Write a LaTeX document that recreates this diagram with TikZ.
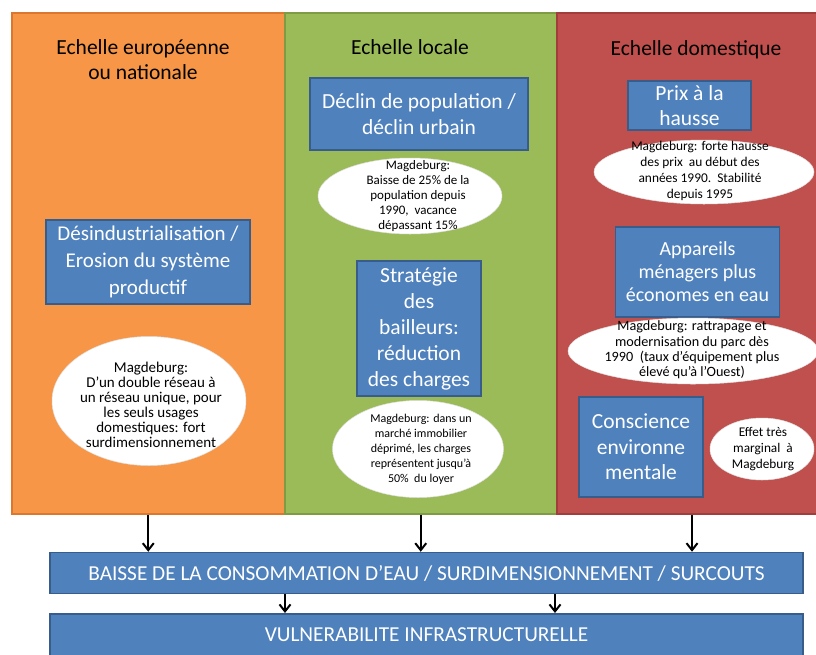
\documentclass[tikz,border=0pt]{standalone}
\usepackage{fontspec}
\setmainfont{Carlito}
\usetikzlibrary{shapes.geometric,arrows.meta}
\definecolor{orF}{HTML}{F79646}
\definecolor{orD}{HTML}{D9782E}
\definecolor{grF}{HTML}{9BBB59}
\definecolor{grD}{HTML}{7F9C45}
\definecolor{rdF}{HTML}{C0504D}
\definecolor{rdD}{HTML}{A03E3B}
\definecolor{blF}{HTML}{4F81BD}
\definecolor{blD}{HTML}{385D8A}
\tikzset{
  panel/.style={rectangle, anchor=north west, line width=1.5pt, inner sep=0pt},
  heading/.style={font=\fontsize{21.5}{25}\selectfont, align=center, text=black, inner sep=0pt},
  bluebox/.style={rectangle, draw=blD, fill=blF, line width=1.5pt, text=white, align=center,
    font=\fontsize{21.5}{25.5}\selectfont, inner sep=0pt},
  oval/.style={ellipse, fill=white, draw=black!12, line width=0.5pt, inner sep=0pt},
  ovaltext/.style={align=center, inner sep=0pt, text=black},
  bar/.style={rectangle, draw=blD, fill=blF, line width=1.5pt, text=white,
    font=\fontsize{21.3}{24}\selectfont, inner sep=0pt, minimum width=753pt},
  arr/.style={-{Straight Barb[length=7pt,width=11pt,line width=2pt]}, line width=2.2pt, black}
}
\begin{document}
\begin{tikzpicture}[x=1pt,y=-1pt]
\useasboundingbox (0,0) rectangle (816,654);
\fill[white] (0,0) rectangle (816,654);
% panels
\node[panel, fill=orF, draw=orD, minimum width=273pt, minimum height=501pt] (po) at (11,12) {};
\node[panel, fill=grF, draw=grD, minimum width=272pt, minimum height=501pt] (pg) at (284,12) {};
\node[panel, fill=rdF, draw=rdD, minimum width=262pt, minimum height=501pt] (pr) at (556,12) {};
% headings
\node[heading] (ho) at (143,60) {Echelle européenne\\ou nationale};
\node[heading] (hg) at (410,47) {Echelle locale};
\node[heading] (hr) at (696,50) {Echelle domestique};
% orange column
\node[bluebox, font=\fontsize{21}{27}\selectfont, minimum width=204pt, minimum height=84pt] (b1) at (148,262) {Désindustrialisation /\\Erosion du système\\productif};
\node[oval, minimum width=194pt, minimum height=129pt] (e1) at (149,401) {};
\node[ovaltext, font=\fontsize{15}{15}\selectfont] (t1) at (151,405) {Magdeburg:\\D’un double réseau à\\un réseau unique, pour\\les seuls usages\\domestiques: fort\\surdimensionnement};
% green column
\node[bluebox, minimum width=218pt, minimum height=72pt] (b2) at (419,114) {Déclin de population /\\déclin urbain};
\node[oval, minimum width=184pt, minimum height=76pt] (e2) at (410,196) {};
\node[ovaltext, font=\fontsize{13}{15}\selectfont] (t2) at (418,196) {Magdeburg:\\Baisse de 25\% de la\\population depuis\\1990,\ \ vacance\\dépassant 15\%};
\node[bluebox, font=\fontsize{21.5}{26}\selectfont, minimum width=124pt, minimum height=135pt] (b3) at (419,328.5) {Stratégie\\des\\bailleurs:\\réduction\\des charges};
\node[oval, minimum width=171pt, minimum height=97pt] (e3) at (418,449) {};
\node[ovaltext, font=\fontsize{12}{15}\selectfont] (t3) at (421,449) {Magdeburg: dans un\\marché immobilier\\déprimé, les charges\\représentent jusqu’à\\50\%\ \ du loyer};
% red column
\node[bluebox, minimum width=123pt, minimum height=49pt] (b4) at (689.5,105.5) {Prix à la\\hausse};
\node[oval, minimum width=220pt, minimum height=64pt] (e4) at (704,172) {};
\node[ovaltext, font=\fontsize{13.4}{15.8}\selectfont] (t4) at (700,171) {Magdeburg: forte hausse\\des prix\ \ au début des\\années 1990.\ \ Stabilité\\depuis 1995};
\node[bluebox, font=\fontsize{20}{23}\selectfont, minimum width=164pt, minimum height=90pt] (b5) at (697.5,272) {Appareils\\ménagers plus\\économes en eau};
\node[oval, minimum width=250pt, minimum height=66pt] (e5) at (693,351) {};
\node[ovaltext, font=\fontsize{14.2}{15.3}\selectfont] (t5) at (692,350) {Magdeburg: rattrapage et\\modernisation du parc dès\\1990\ \ (taux d’équipement plus\\élevé qu’à l’Ouest)};
\node[bluebox, minimum width=124pt, minimum height=100pt] (b6) at (641,447) {Conscience\\environne\\mentale};
\node[oval, minimum width=104pt, minimum height=62pt] (e6) at (762,449) {};
\node[ovaltext, font=\fontsize{13.3}{16}\selectfont] (t6) at (763,449) {Effet très\\marginal\ \ à\\Magdeburg};
% bars
\node[bar, minimum height=41pt] (bar1) at (426.5,573) {BAISSE DE LA CONSOMMATION D’EAU / SURDIMENSIONNEMENT / SURCOUTS};
\node[bar, minimum height=42pt, anchor=north] (bar2) at (426.5,613) {VULNERABILITE INFRASTRUCTURELLE};
% arrows
\draw[arr] (po.south) -- (po.south |- bar1.north);
\draw[arr] (pg.south) -- (pg.south |- bar1.north);
\coordinate (xr) at (692,0);
\draw[arr] (xr |- pr.south) -- (xr |- bar1.north);
\coordinate (xa) at (285,0);
\coordinate (xb) at (555,0);
\draw[arr] (xa |- bar1.south) -- (xa |- bar2.north);
\draw[arr] (xb |- bar1.south) -- (xb |- bar2.north);
\end{tikzpicture}
\end{document}
